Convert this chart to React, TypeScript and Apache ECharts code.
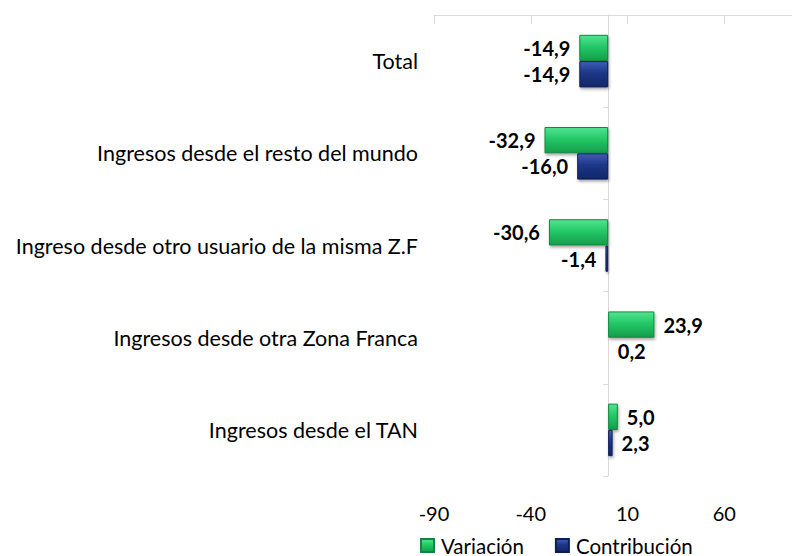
import React, { useEffect, useRef } from "react";
import * as echarts from "echarts";

const categories = [
  "Total",
  "Ingresos desde el resto del mundo",
  "Ingreso desde otro usuario de la misma Z.F",
  "Ingresos desde otra Zona Franca",
  "Ingresos desde el TAN",
];
const variacion = [-14.9, -32.9, -30.6, 23.9, 5.0];
const contribucion = [-14.9, -16.0, -1.4, 0.2, 2.3];
const seriesNames = ["Variación", "Contribución"];
const axisMin = -90;
const axisMax = 110;
const axisInterval = 50;

const FONT = "Lato";

const greenFill = new echarts.graphic.LinearGradient(0, 0, 0, 1, [
  { offset: 0, color: "#52e493" },
  { offset: 0.45, color: "#23c866" },
  { offset: 1, color: "#169d4c" },
]);
const blueFill = new echarts.graphic.LinearGradient(0, 0, 0, 1, [
  { offset: 0, color: "#3d5fb5" },
  { offset: 0.45, color: "#1d3687" },
  { offset: 1, color: "#102668" },
]);

const fmt = (v: number) => v.toFixed(1).replace(".", ",");

const toData = (arr: number[]) =>
  arr.map((v) => ({
    value: v,
    label: { position: v < 0 ? "left" : "right" },
  }));

export default function App() {
  const ref = useRef<HTMLDivElement>(null);
  useEffect(() => {
    const chart = echarts.init(ref.current!, null, { renderer: "svg" });
    const labelStyle = {
      show: true,
      distance: 9,
      fontFamily: FONT,
      fontWeight: "bold" as const,
      fontSize: 20,
      color: "#000",
      formatter: (p: any) => fmt(p.value),
    };
    chart.setOption({
      animation: false,
      backgroundColor: "#fff",
      textStyle: { fontFamily: FONT },
      grid: {
        left: 434,
        right: -29,
        top: 15,
        bottom: 80,
        containLabel: false,
        outerBoundsMode: "none",
      },
      legend: {
        left: 420,
        top: 535,
        padding: 0,
        itemWidth: 13,
        itemHeight: 13,
        itemGap: 31,
        icon: "rect",
        textStyle: {
          fontFamily: FONT,
          fontSize: 20.5,
          lineHeight: 20,
          color: "#000",
          padding: [0, 0, 0, 2],
        },
        data: seriesNames,
      },
      xAxis: [
        {
          type: "value",
          position: "top",
          min: axisMin,
          max: axisMax,
          interval: axisInterval,
          axisLine: { show: true, lineStyle: { color: "#d9d9d9", width: 1 } },
          axisTick: { show: true, inside: true, length: 9, lineStyle: { color: "#d9d9d9" } },
          axisLabel: { show: false },
          splitLine: { show: false },
        },
        {
          type: "value",
          position: "bottom",
          min: axisMin,
          max: axisMax,
          interval: axisInterval,
          axisLine: { show: false },
          axisTick: { show: false },
          axisLabel: {
            show: true,
            showMaxLabel: false,
            margin: 27,
            fontFamily: FONT,
            fontSize: 20,
            color: "#000",
          },
          splitLine: { show: false },
        },
      ],
      yAxis: [
        {
          type: "category",
          position: "left",
          inverse: true,
          data: categories,
          axisLine: { show: false, onZero: false },
          axisTick: { show: false },
          axisLabel: { margin: 16, fontFamily: FONT, fontSize: 21.5, color: "#000" },
        },
        {
          type: "category",
          position: "left",
          inverse: true,
          data: categories,
          axisLine: { show: true, onZero: true, lineStyle: { color: "#d9d9d9", width: 1 } },
          axisTick: { show: true, length: 5, lineStyle: { color: "#d9d9d9" } },
          axisLabel: { show: false },
        },
      ],
      series: [
        {
          name: seriesNames[0],
          type: "bar",
          xAxisIndex: 0,
          yAxisIndex: 0,
          barCategoryGap: "43%",
          barGap: "0%",
          data: toData(variacion),
          itemStyle: {
            color: greenFill,
            borderColor: "#12863f",
            borderWidth: 1,
            shadowBlur: 3,
            shadowOffsetY: 2,
            shadowOffsetX: 1,
            shadowColor: "rgba(0,0,0,0.35)",
          },
          label: labelStyle,
        },
        {
          name: seriesNames[1],
          type: "bar",
          xAxisIndex: 0,
          yAxisIndex: 0,
          barCategoryGap: "43%",
          barGap: "0%",
          data: toData(contribucion),
          itemStyle: {
            color: blueFill,
            borderColor: "#0c1e57",
            borderWidth: 1,
            shadowBlur: 3,
            shadowOffsetY: 2,
            shadowOffsetX: 1,
            shadowColor: "rgba(0,0,0,0.35)",
          },
          label: labelStyle,
        },
      ],
    });
    return () => chart.dispose();
  }, []);
  return (
    <div
      ref={ref}
      style={{ position: "absolute", left: 0, top: 0, width: 792, height: 556 }}
    />
  );
}
